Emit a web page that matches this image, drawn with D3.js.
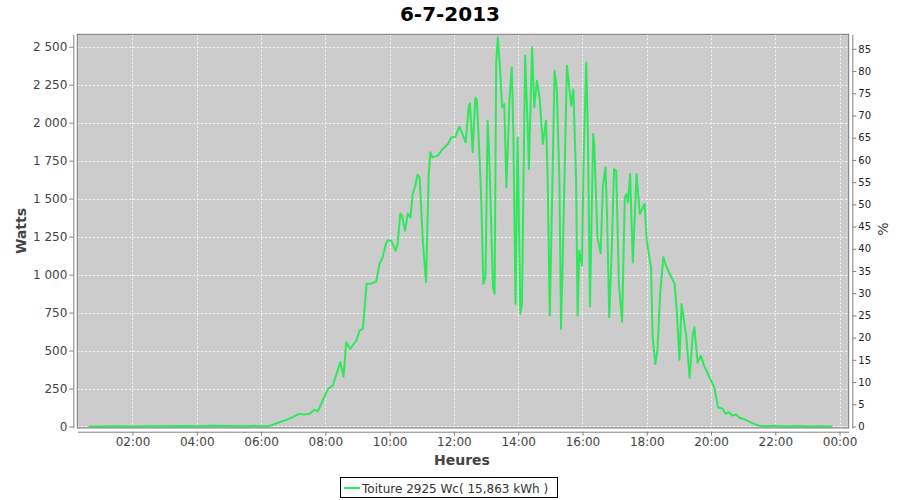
<!DOCTYPE html>
<html><head><meta charset="utf-8">
<script src="https://cdn.jsdelivr.net/npm/d3@7"></script>
<style>body{margin:0;background:#fff} text{font-family:"DejaVu Sans",sans-serif}</style>
</head><body><svg id="c" width="900" height="500"></svg>
<script>
const chartTitle = "6-7-2013";
const legendLabel = "Toiture 2925 Wc( 15,863 kWh )";
const peakPower = 2925;
const xLabel = "Heures", yLabel = "Watts", y2Label = "%";
const times = ["00:40","01:00","01:30","02:00","02:30","03:00","03:30","04:00","04:30","05:00","05:30","05:50","06:00","06:10","06:20","06:34","06:45","06:59","07:11","07:20","07:30","07:40","07:46","07:55","08:05","08:14","08:20","08:28","08:34","08:39","08:46","08:58","09:04","09:10","09:13","09:17","09:25","09:35","09:41","09:47","09:53","09:56","10:03","10:11","10:15","10:20","10:23","10:29","10:34","10:39","10:43","10:48","10:52","10:56","11:02","11:08","11:13","11:16","11:20","11:30","11:39","11:49","11:55","12:03","12:10","12:16","12:22","12:28","12:30","12:35","12:40","12:43","12:47","12:51","12:55","12:59","13:03","13:06","13:13","13:16","13:19","13:22","13:26","13:30","13:34","13:38","13:44","13:48","13:51","13:55","13:59","14:04","14:07","14:13","14:18","14:20","14:26","14:30","14:35","14:40","14:46","14:52","14:55","14:59","15:08","15:12","15:17","15:20","15:23","15:31","15:39","15:43","15:48","15:51","15:54","15:59","16:02","16:07","16:10","16:14","16:20","16:22","16:28","16:34","16:38","16:43","16:46","16:50","16:55","16:59","17:03","17:08","17:14","17:19","17:22","17:25","17:29","17:34","17:41","17:47","17:56","18:00","18:08","18:11","18:16","18:20","18:25","18:31","18:36","18:43","18:52","18:56","19:01","19:05","19:14","19:20","19:26","19:29","19:35","19:41","19:47","19:57","20:06","20:13","20:22","20:27","20:33","20:40","20:47","20:53","21:05","21:17","21:30","21:45","22:00","22:20","22:40","23:00","23:20","23:45"];
const watts = [0,0,1,0,2,1,3,2,4,3,2,4,2,0,8,28,40,61,83,78,83,110,100,171,248,270,336,423,329,555,511,566,632,643,763,939,939,954,1070,1114,1200,1224,1224,1158,1202,1403,1388,1289,1403,1377,1530,1585,1658,1640,1224,949,1662,1805,1772,1783,1827,1860,1903,1908,1974,1925,1871,2112,2127,1805,2166,2145,1838,1508,939,982,2013,1772,916,873,2397,2561,2364,2101,2123,1575,2166,2364,1947,807,1903,741,807,2441,1947,1695,2495,2101,2276,2166,1860,2013,1640,730,2342,2232,1618,643,1072,2375,2112,2221,1640,730,1158,1059,1725,2397,1947,790,1925,1860,1245,1140,1575,1706,1377,719,1202,1695,1684,939,690,1508,1530,1475,1662,1080,1662,1399,1465,1224,1048,588,412,500,873,1114,1059,1004,939,763,440,807,588,320,610,653,420,467,401,324,259,127,116,83,94,72,79,57,44,22,5,2,4,0,3,0,2,0];
const wattTicks = [0,250,500,750,1000,1250,1500,1750,2000,2250,2500];
const pctTicks = [0,5,10,15,20,25,30,35,40,45,50,55,60,65,70,75,80,85];
const hourTicks = [2,4,6,8,10,12,14,16,18,20,22,24];

const svg = d3.select("#c");
const L = 77.3, R = 848.7, T = 34.3, B = 428;
const yMin = -10, yMax = 2582;
const base = (h, m) => new Date(2013, 6, 6, h, m);
const parse = s => { const [h, m] = s.split(":").map(Number); return base(h, m); };

const x = d3.scaleTime().domain([base(0, 17.5), base(24, 17)]).range([L, R]);
const y = d3.scaleLinear().domain([yMin, yMax]).range([B, T]);
const y2 = d3.scaleLinear().domain([yMin / peakPower * 100, yMax / peakPower * 100]).range([B, T]);

const data = times.map((t, i) => ({ t: parse(t), v: watts[i] }));
const hourDates = hourTicks.map(h => base(h, 0));
const frFmt = d3.formatLocale({ decimal: ",", thousands: " ", grouping: [3], currency: ["", "€"] }).format(",d");

// title
svg.append("text").attr("x", 450).attr("y", 20.7).attr("text-anchor", "middle")
  .style("font-size", "20px").style("font-weight", "bold").attr("fill", "#000").text(chartTitle);

// plot background
svg.append("rect").attr("x", L).attr("y", T).attr("width", R - L).attr("height", B - T).attr("fill", "#cccccc");

// grid
const grid = svg.append("g").attr("stroke", "#f4f4f4").attr("stroke-width", 1).attr("stroke-dasharray", "2,2");
grid.selectAll(".gy").data(wattTicks).join("line")
  .attr("x1", L).attr("x2", R).attr("y1", d => Math.round(y(d)) + 0.5).attr("y2", d => Math.round(y(d)) + 0.5);
grid.selectAll(".gx").data(hourDates).join("line")
  .attr("y1", T).attr("y2", B).attr("x1", d => Math.round(x(d)) + 0.5).attr("x2", d => Math.round(x(d)) + 0.5);

// line
const clip = svg.append("clipPath").attr("id", "clp").append("rect")
  .attr("x", L).attr("y", T).attr("width", R - L).attr("height", B - T);
svg.append("path").datum(data).attr("clip-path", "url(#clp)")
  .attr("fill", "none").attr("stroke", "#2ee85c").attr("stroke-width", 2)
  .attr("stroke-linejoin", "round").attr("stroke-linecap", "round")
  .attr("d", d3.line().x(d => x(d.t)).y(d => y(d.v)));

// plot border
svg.append("rect").attr("x", L).attr("y", T).attr("width", R - L).attr("height", B - T)
  .attr("fill", "none").attr("stroke", "#7a7a7a").attr("stroke-width", 1);

function styleAxis(g, size) {
  g.selectAll("path,line").attr("stroke", "#808080");
  g.selectAll("text").attr("fill", "#444").style("font-size", size).style("font-family", "DejaVu Sans");
}
// left axis
const gL = svg.append("g").attr("transform", "translate(73.3,0)")
  .call(d3.axisLeft(y).tickValues(wattTicks).tickFormat(frFmt).tickSize(4).tickSizeOuter(0).tickPadding(2));
styleAxis(gL, "12px");
// right axis
const gR = svg.append("g").attr("transform", "translate(852.3,0)")
  .call(d3.axisRight(y2).tickValues(pctTicks).tickFormat(d3.format("d")).tickSize(4).tickSizeOuter(0).tickPadding(2));
styleAxis(gR, "10px");
gR.selectAll("text").attr("fill", "#222");
// bottom axis
const gB = svg.append("g").attr("transform", "translate(0,431.7)")
  .call(d3.axisBottom(x).tickValues(hourDates).tickFormat(d3.timeFormat("%H:%M")).tickSize(4).tickSizeOuter(0).tickPadding(2));
styleAxis(gB, "12px");

// axis labels
svg.append("text").attr("transform", "translate(25.5,231) rotate(-90)").attr("text-anchor", "middle")
  .style("font-size", "14px").style("font-weight", "bold").attr("fill", "#444").text(yLabel);
svg.append("text").attr("transform", "translate(888,229) rotate(-90)").attr("text-anchor", "middle")
  .style("font-size", "14px").attr("fill", "#444").text(y2Label);
svg.append("text").attr("x", 462).attr("y", 465).attr("text-anchor", "middle")
  .style("font-size", "14px").style("font-weight", "bold").attr("fill", "#444").text(xLabel);

// legend
const lg = svg.append("g");
lg.append("rect").attr("x", 340.5).attr("y", 477.5).attr("width", 217).attr("height", 20)
  .attr("fill", "#fff").attr("stroke", "#000");
lg.append("line").attr("x1", 344).attr("x2", 360).attr("y1", 488).attr("y2", 488)
  .attr("stroke", "#2ee85c").attr("stroke-width", 2);
lg.append("text").attr("x", 362).attr("y", 492.5).style("font-size", "12px").attr("fill", "#333").text(legendLabel);
</script></body></html>
